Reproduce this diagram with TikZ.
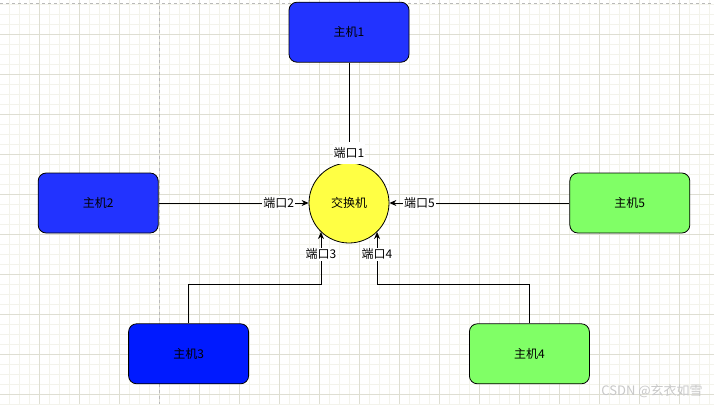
\documentclass[tikz,border=0pt]{standalone}
\usepackage{fontspec}
\setmainfont{Noto Sans CJK SC}
\usetikzlibrary{arrows.meta, positioning}
\definecolor{hostblue}{RGB}{34,51,255}
\definecolor{hostdeep}{RGB}{0,26,255}
\definecolor{hostgreen}{RGB}{128,255,102}
\definecolor{switchyellow}{RGB}{255,255,68}
\definecolor{gridmajor}{RGB}{222,222,210}
\definecolor{gridminor}{RGB}{243,243,235}
\definecolor{pageline}{RGB}{185,185,185}
\definecolor{markgray}{RGB}{200,200,200}

\begin{document}
\begin{tikzpicture}[
  x=1pt, y=-1pt,
  font=\fontsize{12}{14}\selectfont,
  host/.style={draw, rounded corners=8pt, minimum width=120pt, minimum height=60pt, inner sep=0pt, line width=0.8pt},
  bluehost/.style={host, fill=hostblue},
  deephost/.style={host, fill=hostdeep},
  greenhost/.style={host, fill=hostgreen},
  hub/.style={draw, circle, fill=switchyellow, minimum size=80pt, inner sep=0pt, line width=0.8pt},
  link/.style={draw, line width=0.8pt},
  arr/.style={link, -{Stealth[length=7pt, width=6pt]}},
  port/.style={fill=white, inner sep=1pt},
]
% canvas grid
\fill[white] (0,0) rectangle (714,404);
\useasboundingbox (0,0) rectangle (714,404);
\foreach \x in {9,19,...,709} \draw[gridminor, line width=0.7pt] (\x,0) -- (\x,404);
\foreach \y in {4,14,...,404} \draw[gridminor, line width=0.7pt] (0,\y) -- (714,\y);
\foreach \x in {39,79,...,679} \draw[gridmajor, line width=0.8pt] (\x,0) -- (\x,404);
\foreach \y in {34,74,...,394} \draw[gridmajor, line width=0.8pt] (0,\y) -- (714,\y);
\draw[pageline, dashed, line width=0.8pt] (0,3.5) -- (714,3.5);
\draw[pageline, dashed, line width=0.8pt] (159,0) -- (159,404);

\node[hub] (switch) at (349,203) {交换机};

\node[bluehost, above=100pt of switch] (host1) {主机1};
\node[bluehost, left=150pt of switch] (host2) {主机2};
\node[greenhost, right=180pt of switch] (host5) {主机5};
\node[deephost, below left=80pt and 100pt of switch.south] (host3) {主机3};
\node[greenhost, below right=80pt and 120pt of switch.south] (host4) {主机4};

\draw[link] (host1) -- (switch) node[port, pos=0.9, minimum height=22pt] (port1) {端口1};
\draw[arr] (host2) -- (switch) node[port, pos=0.8] (port2) {端口2};
\draw[arr] (host5) -- (switch) node[port, pos=0.833] (port5) {端口5};
\draw[arr] (host3.north) -- ++(0,-39) -| (switch.-134) node[port, pos=0.79] (port3) {端口3};
\draw[arr] (host4.north) -- ++(0,-39) -| (switch.-46) node[port, pos=0.79] (port4) {端口4};

\node[markgray, font=\fontsize{13}{15}\selectfont] (mark) at (652,391) {CSDN @玄衣如雪};
\end{tikzpicture}
\end{document}
